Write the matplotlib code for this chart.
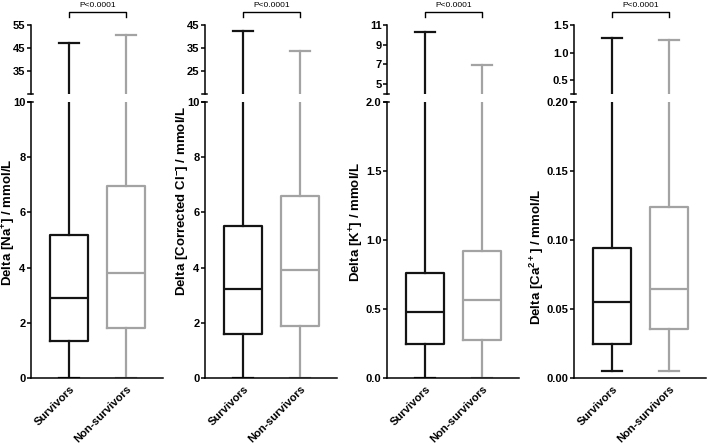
import matplotlib
matplotlib.use('Agg')
import matplotlib.pyplot as plt

plt.rcParams['font.family'] = ['Liberation Sans', 'DejaVu Sans']
plt.rcParams['font.weight'] = 'bold'
plt.rcParams['mathtext.fontset'] = 'custom'
plt.rcParams['mathtext.rm'] = 'Liberation Sans:bold'
plt.rcParams['mathtext.bf'] = 'Liberation Sans:bold'
plt.rcParams['mathtext.default'] = 'bf'

groups = ['Survivors', 'Non-survivors']
colors = ['#141414', '#a3a3a3']
p_text = 'P<0.0001'

ylabels = [
    r'Delta [Na$^{+}$] / mmol/L',
    r'Delta [Corrected Cl$^{-}$] / mmol/L',
    r'Delta [K$^{+}$] / mmol/L',
    r'Delta [Ca$^{2+}$] / mmol/L',
]

# min, q1, median, q3, max for survivors / non-survivors
na_stats = [[0, 1.34, 2.9, 5.18, 47.3], [0, 1.81, 3.8, 6.96, 50.6]]
cl_stats = [[0, 1.59, 3.22, 5.5, 42.5], [0, 1.9, 3.91, 6.6, 33.7]]
k_stats = [[0, 0.246, 0.48, 0.76, 10.3], [0, 0.275, 0.565, 0.92, 6.9]]
ca_stats = [[0.005, 0.025, 0.055, 0.094, 1.26], [0.005, 0.0355, 0.0645, 0.124, 1.22]]
all_stats = [na_stats, cl_stats, k_stats, ca_stats]

# broken axis: lower and upper segments
low_lims = [(0, 10), (0, 10), (0, 2), (0, 0.2)]
low_ticks = [[0, 2, 4, 6, 8, 10], [0, 2, 4, 6, 8, 10],
             [0, 0.5, 1.0, 1.5, 2.0], [0, 0.05, 0.10, 0.15, 0.20]]
low_fmt = ['{:.0f}', '{:.0f}', '{:.1f}', '{:.2f}']
high_lims = [(25, 55), (15, 45), (4, 11), (0.25, 1.5)]
high_ticks = [[35, 45, 55], [25, 35, 45], [5, 7, 9, 11], [0.5, 1.0, 1.5]]
high_fmt = ['{:.0f}', '{:.0f}', '{:.0f}', '{:.1f}']

# layout in pixels
W, H = 708, 444
x_left = [31, 205, 387, 574]
x_width = 132
label_right = [18, 191, 366, 546]   # right edge of the rotated y label
label_y = [0.565, 0.64, 0.565, 0.44]

fig = plt.figure(figsize=(W / 100, H / 100), dpi=100)

for i in range(4):
    ax_lo = fig.add_axes([x_left[i] / W, 1 - 378 / H, x_width / W, 276 / H])
    ax_hi = fig.add_axes([x_left[i] / W, 1 - 94 / H, x_width / W, 69 / H])

    for ax in (ax_lo, ax_hi):
        for j in range(2):
            s = all_stats[i][j]
            st = {'whislo': s[0], 'q1': s[1], 'med': s[2], 'q3': s[3],
                  'whishi': s[4], 'fliers': []}
            lp = dict(color=colors[j], linewidth=1.6)
            ax.bxp([st], positions=[j + 1], widths=0.68, capwidths=0.36,
                   showfliers=False, boxprops=lp, whiskerprops=lp,
                   capprops=lp, medianprops=lp)
        ax.set_xlim(0.33, 2.65)
        ax.spines['top'].set_visible(False)
        ax.spines['right'].set_visible(False)
        ax.spines['left'].set_linewidth(1.1)
        ax.spines['bottom'].set_linewidth(1.1)
        ax.tick_params(axis='y', length=3, width=1.1, labelsize=8, pad=1)

    ax_lo.set_ylim(*low_lims[i])
    ax_lo.set_yticks(low_ticks[i])
    ax_lo.set_yticklabels([low_fmt[i].format(v) for v in low_ticks[i]])
    ax_lo.set_xticks([1, 2])
    ax_lo.set_xticklabels(groups, rotation=45, ha='right',
                          rotation_mode='anchor', fontsize=8)
    ax_lo.tick_params(axis='x', length=0, pad=4)
    ax_lo.set_ylabel(ylabels[i], fontsize=9.5, fontweight='bold')
    ax_lo.yaxis.set_label_coords((label_right[i] - x_left[i]) / x_width,
                                 label_y[i])

    ax_hi.set_ylim(*high_lims[i])
    ax_hi.set_yticks(high_ticks[i])
    ax_hi.set_yticklabels([high_fmt[i].format(v) for v in high_ticks[i]])
    ax_hi.spines['bottom'].set_visible(False)
    ax_hi.set_xticks([])

    # break marks
    d = 3.0 / x_width
    ax_lo.plot([-d, d * 0.7], [1, 1], transform=ax_lo.transAxes,
               color='black', lw=1.1, clip_on=False)
    ax_hi.plot([-d, d * 0.7], [0, 0], transform=ax_hi.transAxes,
               color='black', lw=1.1, clip_on=False)

    # significance bracket
    tr = ax_hi.get_xaxis_transform()
    ax_hi.plot([1, 1, 2, 2], [1.115, 1.19, 1.19, 1.115], transform=tr,
               color='black', lw=1.0, clip_on=False)
    ax_hi.text(1.5, 1.23, p_text, transform=tr, ha='center', va='bottom',
               fontsize=6, fontweight='normal')

fig.savefig('out.png', dpi=100)
